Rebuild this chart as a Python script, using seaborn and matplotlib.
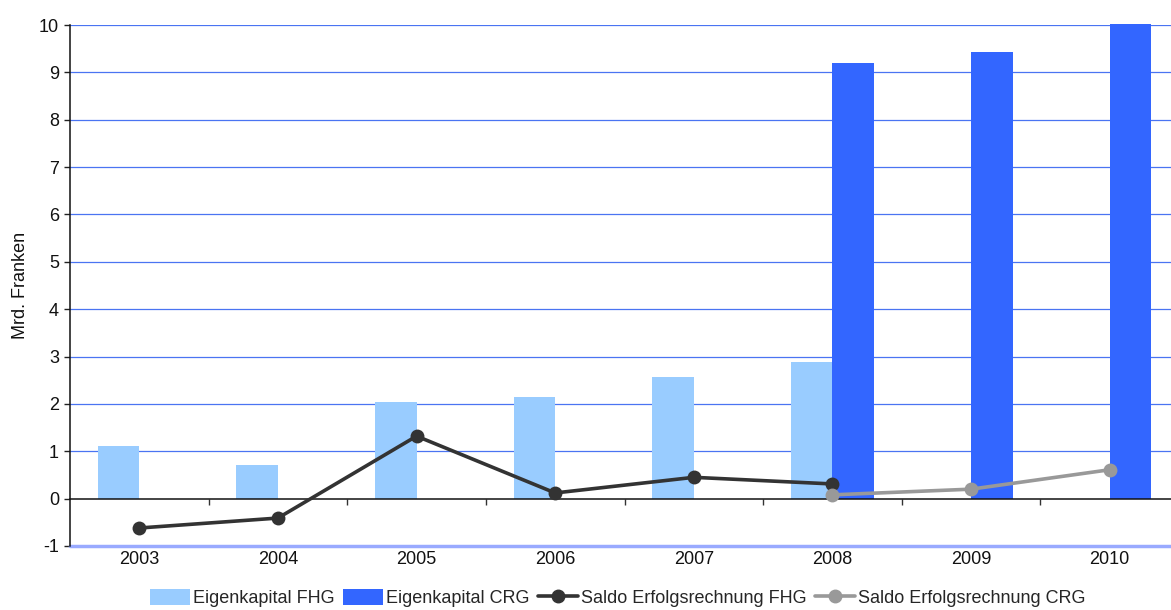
import matplotlib
matplotlib.use("Agg")
import matplotlib.pyplot as plt
from matplotlib.patches import Patch
from matplotlib.lines import Line2D
import numpy as np
import pandas as pd
import seaborn as sns

# Jahre und Werte (Mrd. Franken)
years = ["2003", "2004", "2005", "2006", "2007", "2008", "2009", "2010"]
eigenkapital_fhg = [1.12, 0.71, 2.03, 2.15, 2.57, 2.89, np.nan, np.nan]
eigenkapital_crg = [np.nan, np.nan, np.nan, np.nan, np.nan, 9.19, 9.42, 10.03]
saldo_fhg_years = ["2003", "2004", "2005", "2006", "2007", "2008"]
saldo_fhg = [-0.62, -0.41, 1.32, 0.12, 0.45, 0.31]
saldo_crg_years = ["2008", "2009", "2010"]
saldo_crg = [0.08, 0.20, 0.61]

labels = ["Eigenkapital FHG", "Eigenkapital CRG",
          "Saldo Erfolgsrechnung FHG", "Saldo Erfolgsrechnung CRG"]
c_fhg_bar = "#99CCFF"
c_crg_bar = "#3366FF"
c_fhg_line = "#333333"
c_crg_line = "#999999"
grid_col = "#4a74f2"

sns.set_theme(style="white")
plt.rcParams["font.family"] = ["Liberation Sans", "DejaVu Sans"]

bars = pd.DataFrame({
    "Jahr": years * 2,
    "Wert": eigenkapital_fhg + eigenkapital_crg,
    "Serie": [labels[0]] * len(years) + [labels[1]] * len(years),
})

W, H = 1171, 610
fig = plt.figure(figsize=(W / 100, H / 100), dpi=100)
ax = fig.add_axes([70 / W, (H - 546) / H, 1109 / W, (546 - 25) / H])

sns.barplot(data=bars, x="Jahr", y="Wert", hue="Serie", order=years,
            hue_order=labels[:2], palette=[c_fhg_bar, c_crg_bar],
            width=0.6, dodge=True, saturation=1, legend=False, ax=ax,
            edgecolor="none", zorder=2)
for p in ax.patches:
    p.set_clip_on(False)

pos_fhg = [years.index(y) for y in saldo_fhg_years]
pos_crg = [years.index(y) for y in saldo_crg_years]
sns.lineplot(x=pos_fhg, y=saldo_fhg, color=c_fhg_line, lw=2.6, marker="o",
             markersize=10, markeredgewidth=0, ax=ax, zorder=4)
sns.lineplot(x=pos_crg, y=saldo_crg, color=c_crg_line, lw=2.6, marker="o",
             markersize=10, markeredgewidth=0, ax=ax, zorder=5)

ax.set_xlim(-0.5, len(years) - 0.5)
ax.set_ylim(-1, 10)
ax.set_yticks(range(-1, 11))
ax.set_yticklabels([str(v) for v in range(-1, 11)], fontsize=13, color="#111111")
ax.tick_params(axis="y", direction="out", length=4, width=1, color="#222222", pad=4, left=True)

# horizontal grid
for v in range(1, 11):
    ax.axhline(v, color=grid_col, lw=0.9, zorder=1)
ax.axhline(-1, color="#99aaff", lw=2.5, zorder=1, clip_on=False)

# x-axis line at zero with separators between categories
for s in ["top", "right"]:
    ax.spines[s].set_visible(False)
ax.spines["bottom"].set_position(("data", 0))
ax.spines["bottom"].set_color("#111111")
ax.spines["bottom"].set_linewidth(1.1)
ax.spines["bottom"].set_zorder(3)
ax.spines["left"].set_color("#111111")
ax.spines["left"].set_linewidth(1.1)
ax.set_xticks(np.arange(0.5, len(years) - 0.5, 1.0))
ax.set_xticklabels([])
ax.tick_params(axis="x", which="major", direction="out", length=4, width=1,
               color="#333333", bottom=True)
ax.set_xticks(range(len(years)), minor=True)
ax.set_xticklabels(years, minor=True, fontsize=13, color="#111111")
ax.tick_params(axis="x", which="minor", length=0, pad=38)

ax.set_xlabel("")
ax.set_ylabel("Mrd. Franken", fontsize=13, color="#111111", labelpad=7)

handles = [
    Patch(facecolor=c_fhg_bar, edgecolor="none"),
    Patch(facecolor=c_crg_bar, edgecolor="none"),
    Line2D([], [], color=c_fhg_line, lw=2.6, marker="o", markersize=9),
    Line2D([], [], color=c_crg_line, lw=2.6, marker="o", markersize=9),
]
fig.legend(handles, labels, loc="center", bbox_to_anchor=(618 / W, 1 - 598 / H),
           ncol=4, frameon=False, fontsize=13, handlelength=2.2, handleheight=1.0,
           handletextpad=0.2, columnspacing=0.45)

fig.savefig("out.png", dpi=100)
